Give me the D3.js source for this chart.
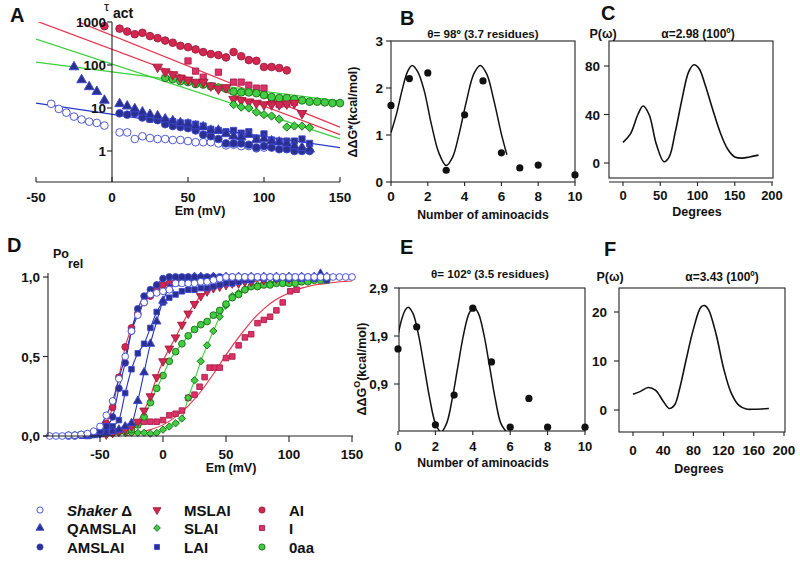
<!DOCTYPE html>
<html><head><meta charset="utf-8">
<script src="https://cdn.jsdelivr.net/npm/d3@7"></script>
<style>body{margin:0;background:#fff}svg{display:block}</style>
</head><body>
<svg id="c" width="800" height="567"></svg>
<script>
// ---------------- DATA ----------------
// Panel A: tau_act (log) vs Em (mV)
const tauShaker = [[-40,12.5],[-35,9.5],[-30,7.8],[-25,6.3],[-20,5.4],[-15,4.8],[-10,4.5],[-5,3.9],[5,2.7],[10,2.7],[15,1.9],[20,2.2],[25,2.0],[30,1.9],[35,1.9],[40,1.8],[45,1.8],[50,1.7],[55,1.6],[60,1.6],[65,1.6],[70,1.5],[75,1.35],[80,1.4],[85,1.3],[90,1.3],[95,1.15],[100,1.2]];
const tauQAMSLAI = [[-25,90],[-20,45],[-15,31],[-10,24],[-5,15],[5,12.5],[10,11],[15,9.5],[20,8],[25,7],[30,6.5],[35,5.5],[40,5],[45,4.5],[50,4.2],[55,3.8],[60,3.6],[65,3],[70,3],[75,2.5],[80,2.2],[85,2.1],[90,2.4],[95,1.8],[100,1.9],[105,1.7],[110,1.6],[115,1.5],[120,1.3],[125,1.2],[130,1.1]];
const tauAMSLAI = [[5,7.5],[10,7],[15,7.5],[20,6],[25,5.6],[30,5.2],[35,4.2],[40,3.8],[45,3.6],[50,3.4],[55,3.0],[60,2.4],[65,2.2],[70,1.9],[75,1.5],[80,1.5],[85,1.5],[90,1.4],[95,1.2],[100,1.3],[105,1.2],[110,1.1],[115,1.1],[120,1.0],[125,1.0],[130,1.0]];
const tauLAI = [[15,8],[20,6.5],[25,5.5],[30,5.5],[35,5],[40,4.8],[45,4.5],[50,4.5],[55,4.2],[60,3.8],[65,3.2],[70,3.0],[75,2.8],[80,3.0],[85,2.6],[90,2.8],[95,2.0],[100,2.5],[105,1.8],[110,1.7],[115,1.7],[120,1.7],[125,1.9],[130,1.5]];
const tauMSLAI = [[30,90],[35,70],[40,60],[45,50],[50,45],[55,40],[60,40],[65,33],[70,28],[75,30],[80,16],[85,15],[90,14],[95,13],[100,12],[105,12],[110,12],[115,12.5],[120,13],[125,7.5]];
const tauAI = [[-5,800],[5,700],[10,600],[15,520],[20,560],[25,470],[30,420],[35,370],[40,330],[45,280],[50,260],[55,230],[60,200],[65,180],[70,170],[75,150],[80,200],[85,160],[90,130],[95,125],[100,90],[105,90],[110,85],[115,75]];
const tauI = [[50,124],[55,72],[60,52],[70,68],[80,40],[85,40],[90,34],[95,29],[100,29],[105,14],[110,12],[115,12.5],[120,13.5]];
const tauSLAI = [[80,12],[85,10.5],[90,10],[95,8],[100,7],[105,6.5],[110,5.5],[115,3.6],[120,3.8],[125,3.8],[130,3.5]];
const tau0aa = [[35,50],[40,47],[45,42],[50,40],[55,36],[60,35],[65,32],[70,30],[75,28],[80,24],[85,23],[90,23],[95,22],[100,20],[105,18],[110,17],[115,17],[120,16],[125,15],[130,14],[135,14],[140,13.5],[145,13],[150,13]];
// fitted straight lines in panel A (end points, Em / tau)
const fitRed1 = [[-50,2500],[150,3.6]];
const fitRed2 = [[-50,1060],[150,2.4]];
const fitGreen1 = [[-50,400],[150,1.9]];
const fitGreen2 = [[-50,117],[150,14.5]];
const fitBlue = [[-50,13],[150,1.2]];
const tickA = [1,10,100,1000];

// Panel B: ddG* vs number of aminoacids
const nB = [0,1,2,3,4,5,6,7,8,10];
const ddgB = [1.63,2.2,2.32,0.25,1.43,2.15,0.62,0.3,0.36,0.15];
const curveB = [[0,1.05],[0.3,1.45],[0.6,1.95],[0.9,2.35],[1.15,2.48],[1.45,2.35],[1.8,1.95],[2.2,1.22],[2.6,0.62],[3.0,0.35],[3.35,0.53],[3.7,1.02],[4.1,1.72],[4.5,2.3],[4.85,2.48],[5.2,2.3],[5.6,1.72],[6.0,1.02],[6.3,0.58]];

// Panel C: P(omega) vs degrees
const curveC = [[0,17],[10,24],[20,40],[27,47],[35,40],[45,15],[55,1],[62,5],[70,25],[80,55],[88,75],[95,81],[102,78],[110,65],[120,45],[130,26],[140,12],[150,5],[160,4],[170,5],[182,6.5]];

// Panel D: relative Po vs Em
const poShaker = [[-90,0],[-85,0],[-80,0],[-75,0.005],[-70,0.005],[-65,0.01],[-60,0.015],[-55,0.03],[-50,0.06],[-45,0.13],[-40,0.22],[-35,0.36],[-30,0.5],[-25,0.66],[-20,0.76],[-15,0.84],[-10,0.89],[-5,0.9],[0,0.91],[5,0.92],[10,0.96],[15,0.96],[20,0.96],[25,0.96],[30,0.97],[35,0.97],[40,0.98],[45,0.99],[50,1],[55,1],[60,1],[65,1],[70,1],[75,1],[80,1],[85,1],[90,1],[95,1],[100,1],[105,1],[110,1],[115,1],[120,1],[125,1],[130,1],[135,1],[140,1],[145,1],[150,1]];
const poQAMSLAI = [[-60,0],[-55,0.005],[-50,0.01],[-45,0.02],[-40,0.03],[-35,0.04],[-30,0.06],[-25,0.08],[-20,0.22],[-15,0.4],[-10,0.58],[-5,0.72],[0,0.85],[5,0.93],[10,0.96],[15,0.98],[20,0.99],[25,1],[30,1],[40,1],[50,1],[60,1],[70,1],[80,1],[90,1],[100,1],[110,1],[120,1],[125,1.02],[130,1]];
const poAMSLAI = [[-75,0],[-70,0],[-65,0.005],[-60,0.01],[-55,0.02],[-50,0.03],[-45,0.06],[-40,0.12],[-35,0.3],[-30,0.46],[-25,0.66],[-20,0.8],[-15,0.88],[-10,0.92],[-5,0.95],[0,0.99],[5,1],[10,1],[15,1],[20,1],[25,1],[30,1],[35,1],[40,1],[45,1],[50,1],[55,1],[60,1],[65,1],[70,1],[75,1],[80,1],[85,1],[90,1],[95,1],[100,1],[105,1],[110,1],[115,1],[120,1],[125,1],[130,1]];
const poLAI = [[-60,0],[-55,0.01],[-50,0.02],[-45,0.03],[-40,0.06],[-35,0.1],[-30,0.27],[-25,0.42],[-20,0.52],[-15,0.58],[-10,0.68],[-5,0.78],[0,0.84],[5,0.87],[10,0.89],[15,0.91],[20,0.92],[25,0.92],[30,0.93],[35,0.93],[40,0.94],[45,0.95],[50,0.96],[55,0.96],[60,0.97],[65,0.98],[70,0.98],[80,0.99],[90,0.99],[100,0.99],[110,0.99],[120,0.99],[130,0.98]];
const poMSLAI = [[-45,0.01],[-40,0.02],[-35,0.03],[-30,0.04],[-25,0.06],[-20,0.09],[-15,0.16],[-10,0.25],[-5,0.37],[0,0.47],[5,0.55],[10,0.62],[15,0.7],[20,0.77],[25,0.83],[30,0.88],[35,0.91],[40,0.93],[45,0.94],[50,0.95],[55,0.96],[60,0.96],[65,0.97],[70,0.97],[80,0.98],[90,0.99],[100,0.99]];
const poAI = [[-65,0.005],[-60,0.01],[-55,0.015],[-50,0.03],[-45,0.08],[-40,0.18],[-35,0.37],[-30,0.56],[-25,0.68],[-20,0.77],[-15,0.84],[-10,0.88],[-5,0.92],[0,0.95],[5,0.96],[10,0.97],[15,0.98],[20,0.98],[25,0.99],[30,0.99]];
const poSLAI = [[-70,0.005],[-65,0.005],[-60,0.01],[-55,0.01],[-50,0.01],[-45,0.01],[-40,0.015],[-35,0.02],[-30,0.02],[-25,0.02],[-20,0.02],[-15,0.02],[-10,0.015],[-5,0.02],[0,0.04],[5,0.06],[10,0.08],[15,0.11],[20,0.24],[25,0.35],[30,0.47],[35,0.57],[40,0.66],[45,0.75],[50,0.82],[55,0.88],[60,0.9],[65,0.92],[70,0.94],[75,0.95],[80,0.96],[85,0.96],[90,0.97],[95,0.97],[100,0.98],[105,0.98],[110,0.98],[115,0.98],[120,0.99],[125,0.99],[130,0.99]];
const po0aa = [[-75,0.005],[-70,0.005],[-65,0.01],[-60,0.01],[-55,0.01],[-50,0.015],[-45,0.02],[-40,0.02],[-35,0.03],[-30,0.03],[-25,0.04],[-20,0.07],[-15,0.12],[-10,0.21],[-5,0.3],[0,0.38],[5,0.47],[10,0.53],[15,0.58],[20,0.63],[25,0.67],[30,0.7],[35,0.72],[40,0.76],[45,0.79],[50,0.83],[55,0.87],[60,0.89],[65,0.92],[70,0.94],[75,0.94],[80,0.95],[85,0.95],[90,0.96],[95,0.96],[100,0.96],[105,0.96],[110,0.97],[115,0.97],[120,0.98],[125,0.98],[130,0.98]];
const poI = [[-25,0.03],[-20,0.07],[-15,0.09],[-10,0.09],[-5,0.09],[0,0.1],[5,0.13],[10,0.14],[15,0.16],[20,0.24],[25,0.26],[29,0.31],[33,0.37],[37,0.43],[41,0.43],[45,0.43],[50,0.49],[55,0.5],[60,0.57],[65,0.62],[70,0.64],[75,0.71],[80,0.73],[85,0.75],[90,0.79],[95,0.84],[101,0.91],[106,0.92]];
const fitI = [[-30,0],[-20,0.02],[-10,0.04],[0,0.07],[10,0.12],[20,0.19],[30,0.28],[40,0.39],[50,0.51],[60,0.62],[70,0.72],[80,0.8],[90,0.86],[100,0.9],[110,0.93],[120,0.95],[130,0.96],[140,0.97],[150,0.975]];
const tickD = [-50,0,50,100,150];

// Panel E
const nE = [0,1,2,3,4,5,6,7,8,10];
const ddgE = [1.63,2.09,0.05,0.67,2.48,1.36,0,0.6,0,0];
const curveE = [[0,1.92],[0.2,2.25],[0.4,2.45],[0.55,2.5],[0.8,2.37],[1.1,1.92],[1.4,1.26],[1.7,0.59],[2.0,0.08],[2.3,-0.1],[2.6,0.08],[2.9,0.59],[3.2,1.26],[3.5,1.92],[3.8,2.37],[4.05,2.5],[4.3,2.37],[4.6,1.92],[4.9,1.26],[5.2,0.59],[5.5,0.08],[5.8,-0.1]];
const tickE = [0.9,1.9,2.9];

// Panel F
const curveF = [[0,3.2],[10,3.8],[20,4.6],[30,4.0],[40,1.8],[48,0.3],[55,1.0],[62,4.5],[70,10],[80,16.5],[90,21],[95,21.3],[100,20.5],[110,15.5],[120,8.5],[130,3.5],[140,1.0],[150,0.2],[160,0.15],[170,0.2],[180,0.3]];

// ---------------- STYLE ----------------
const FONT = "'Liberation Sans', Arial, Helvetica, sans-serif";
const BLUE_F = "#2a2f90", BLUE_S = "#3c48d0", BLUE_L = "#2535c0";
const RED_F = "#d42650", RED_S = "#9c1d3c", RED_L = "#e63048";
const GRN_F = "#3fcf3f", GRN_S = "#1c6a1c", GRN_L = "#39d039";

const svg = d3.select("#c").style("font-family", FONT).style("font-weight", "bold");

function txt(x, y, s, size, anchor, extra) {
  const t = svg.append("text").attr("x", x).attr("y", y).attr("font-size", size)
    .attr("text-anchor", anchor || "start").attr("fill", "#111").text(s);
  if (extra) extra(t);
  return t;
}
function line(x1, y1, x2, y2, w) {
  svg.append("line").attr("x1", x1).attr("y1", y1).attr("x2", x2).attr("y2", y2)
    .attr("stroke", "#222").attr("stroke-width", w || 1.1);
}
const sym = {
  circle: d3.symbol().type(d3.symbolCircle),
  tri: d3.symbol().type(d3.symbolTriangle),
  square: d3.symbol().type(d3.symbolSquare),
};
const styles = {
  shaker: {t: "circle", f: "#fff", s: BLUE_S, rot: 0, sz: 1},
  qam: {t: "tri", f: BLUE_F, s: BLUE_S, rot: 0, sz: 0.9},
  am: {t: "circle", f: BLUE_F, s: BLUE_S, rot: 0, sz: 1},
  lai: {t: "square", f: BLUE_F, s: BLUE_S, rot: 0, sz: 0.85},
  mslai: {t: "tri", f: RED_F, s: RED_S, rot: 180, sz: 0.9},
  slai: {t: "square", f: GRN_F, s: GRN_S, rot: 45, sz: 0.75},
  ai: {t: "circle", f: RED_F, s: RED_S, rot: 0, sz: 1},
  i: {t: "square", f: "#e0306a", s: "#a82048", rot: 0, sz: 0.85},
  zero: {t: "circle", f: GRN_F, s: GRN_S, rot: 0, sz: 1},
};
function markers(g, data, xs, ys, st, base) {
  const gen = sym[st.t].size(base * st.sz);
  g.selectAll(null).data(data).enter().append("path")
    .attr("d", gen)
    .attr("transform", d => `translate(${xs(d[0])},${ys(d[1])}) rotate(${st.rot})`)
    .attr("fill", st.f).attr("stroke", st.s).attr("stroke-width", 0.9);
}

// ---------------- PANEL A ----------------
const xA = d3.scaleLinear().domain([-50, 150]).range([36, 340]);
const yA = d3.scaleLog().domain([0.19, 1000]).range([182, 22]);
svg.append("clipPath").attr("id", "clipA").append("rect").attr("x", 36).attr("y", 22).attr("width", 304).attr("height", 160);
const gA = svg.append("g");
const lnA = d3.line().x(d => xA(d[0])).y(d => yA(d[1]));
const gAl = gA.append("g").attr("clip-path", "url(#clipA)");
[[fitRed1, RED_L], [fitRed2, RED_L], [fitGreen1, GRN_L], [fitGreen2, GRN_L], [fitBlue, BLUE_L]].forEach(([d, c]) => {
  gAl.append("path").attr("d", lnA(d)).attr("fill", "none").attr("stroke", c).attr("stroke-width", 1.2);
});
const mA = 46;
markers(gA, tauShaker, xA, yA, styles.shaker, mA);
markers(gA, tauAI, xA, yA, styles.ai, mA);
markers(gA, tauI, xA, yA, styles.i, mA);
markers(gA, tau0aa, xA, yA, styles.zero, mA);
markers(gA, tauMSLAI, xA, yA, styles.mslai, mA);
markers(gA, tauSLAI, xA, yA, styles.slai, mA);
markers(gA, tauLAI, xA, yA, styles.lai, mA);
markers(gA, tauAMSLAI, xA, yA, styles.am, mA);
markers(gA, tauQAMSLAI, xA, yA, styles.qam, mA);
// axes A
line(xA(0), 22, xA(0), 182);
line(36, 182, 340, 182);
tickA.forEach(v => { line(xA(0) - 5, yA(v), xA(0), yA(v)); txt(106, yA(v) + 5, String(v), 13.5, "end"); });
[-50, 0, 50, 100, 150].forEach(v => { line(xA(v), 182, xA(v), 177); txt(xA(v), 202, String(v), 13.5, "middle"); });
txt(200, 215, "Em (mV)", 12.5, "middle");
txt(104, 11, "τ", 13, "start", t => t.attr("font-weight", "normal"));
txt(113, 18, "act", 14, "start");
txt(10, 22, "A", 20, "start");

// ---------------- PANEL B ----------------
const xB = d3.scaleLinear().domain([0, 10]).range([391, 575]);
const yB = d3.scaleLinear().domain([0, 3]).range([182, 41]);
svg.append("rect").attr("x", 391).attr("y", 41).attr("width", 184).attr("height", 141).attr("fill", "none").attr("stroke", "#222").attr("stroke-width", 1.1);
[0, 1, 2, 3].forEach(v => { line(386, yB(v), 391, yB(v)); txt(383, yB(v) + 5, String(v), 13.5, "end"); });
[0, 2, 4, 6, 8, 10].forEach(v => { line(xB(v), 182, xB(v), 186); txt(xB(v), 201, String(v), 13.5, "middle"); });
svg.append("path").attr("d", d3.line().x(d => xB(d[0])).y(d => yB(d[1])).curve(d3.curveCatmullRom)(curveB))
  .attr("fill", "none").attr("stroke", "#111").attr("stroke-width", 1.5);
svg.append("g").selectAll(null).data(nB).enter().append("circle")
  .attr("cx", d => xB(d)).attr("cy", (d, i) => yB(ddgB[i])).attr("r", 3.6).attr("fill", "#111");
txt(483, 38, "θ= 98º (3.7 residues)", 11.6, "middle");
txt(483, 219, "Number of aminoacids", 12.2, "middle");
txt(0, 0, "ΔΔG*(kcal/mol)", 12.5, "middle", t => t.attr("transform", "translate(357,112) rotate(-90)"));
txt(400, 25, "B", 20, "start");

// ---------------- PANEL C ----------------
const xC = d3.scaleLinear().domain([0, 200]).range([623, 772]);
const yC = d3.scaleLinear().domain([0, 80]).range([163, 66]);
svg.append("rect").attr("x", 609).attr("y", 41).attr("width", 164).attr("height", 137).attr("fill", "none").attr("stroke", "#222").attr("stroke-width", 1.1);
line(609, 182, 773, 182);
[0, 50, 100, 150, 200].forEach(v => { line(xC(v), 182, xC(v), 186); txt(xC(v), 200, String(v), 13, "middle"); });
[0, 40, 80].forEach(v => { line(604, yC(v), 609, yC(v)); txt(600, yC(v) + 5, String(v), 13.5, "end"); });
svg.append("path").attr("d", d3.line().x(d => xC(d[0])).y(d => yC(d[1])).curve(d3.curveCatmullRom)(curveC))
  .attr("fill", "none").attr("stroke", "#111").attr("stroke-width", 1.6);
txt(603, 38, "P(ω)", 12.5, "middle");
txt(698, 38, "α=2.98 (100º)", 12, "middle");
txt(697, 216, "Degrees", 12.5, "middle");
txt(601, 20, "C", 20, "start");

// ---------------- PANEL D ----------------
const xD = d3.scaleLinear().domain([-50, 150]).range([100, 352]);
const yD = d3.scaleLinear().domain([0, 1]).range([436, 277]);
const gD = svg.append("g");
const lnD = d3.line().x(d => xD(d[0])).y(d => yD(d[1])).curve(d3.curveMonotoneX);
[[poSLAI, GRN_L], [po0aa, GRN_L], [poMSLAI, RED_L], [poAI, RED_L], [poLAI, BLUE_L], [poQAMSLAI, BLUE_L], [poAMSLAI, BLUE_L], [poShaker, BLUE_L]].forEach(([d, c]) => {
  gD.append("path").attr("d", lnD(d)).attr("fill", "none").attr("stroke", c).attr("stroke-width", 1.1);
});
gD.append("path").attr("d", lnD(fitI)).attr("fill", "none").attr("stroke", RED_L).attr("stroke-width", 1.1);
const mD = 36;
markers(gD, poI, xD, yD, styles.i, mD);
markers(gD, poSLAI, xD, yD, styles.slai, mD);
markers(gD, po0aa, xD, yD, styles.zero, mD);
markers(gD, poMSLAI, xD, yD, styles.mslai, mD);
markers(gD, poAI, xD, yD, styles.ai, mD);
markers(gD, poLAI, xD, yD, styles.lai, mD);
markers(gD, poQAMSLAI, xD, yD, styles.qam, mD);
markers(gD, poAMSLAI, xD, yD, styles.am, mD);
markers(gD, poShaker, xD, yD, styles.shaker, mD);
line(48, 273, 48, 436);
line(43, 436, 353, 436);
[0, 0.5, 1].forEach(v => { line(43, yD(v), 48, yD(v)); txt(40, yD(v) + 5, v.toFixed(1).replace(".", ","), 13.5, "end"); });
tickD.forEach(v => { line(xD(v), 436, xD(v), 442); txt(xD(v), 459, String(v), 13.5, "middle"); });
txt(231, 472, "Em (mV)", 12.5, "middle");
txt(53, 258, "Po", 12.5, "start");
txt(68, 268, "rel", 12.5, "start");
txt(7, 252, "D", 20, "start");

// ---------------- PANEL E ----------------
const xE = d3.scaleLinear().domain([0, 10]).range([398, 585]);
const yE = d3.scaleLinear().domain([0.9, 2.9]).range([384, 288]);
svg.append("clipPath").attr("id", "clipE").append("rect").attr("x", 399).attr("y", 288).attr("width", 186).attr("height", 143);
svg.append("rect").attr("x", 399).attr("y", 288).attr("width", 186).attr("height", 143).attr("fill", "none").attr("stroke", "#222").attr("stroke-width", 1.1);
tickE.forEach(v => { line(394, yE(v), 399, yE(v)); txt(388, yE(v) + 5, v.toFixed(1).replace(".", ","), 13.5, "end"); });
[0, 2, 4, 6, 8, 10].forEach(v => { line(xE(v), 431, xE(v), 435); txt(xE(v), 451, String(v), 13, "middle"); });
svg.append("path").attr("clip-path", "url(#clipE)").attr("d", d3.line().x(d => xE(d[0])).y(d => yE(d[1])).curve(d3.curveCatmullRom)(curveE))
  .attr("fill", "none").attr("stroke", "#111").attr("stroke-width", 1.5);
svg.append("g").selectAll(null).data(nE).enter().append("circle")
  .attr("cx", d => xE(d)).attr("cy", (d, i) => yE(ddgE[i])).attr("r", 3.6).attr("fill", "#111");
txt(490, 278, "θ= 102º (3.5 residues)", 11.6, "middle");
txt(483, 467, "Number of aminoacids", 12.2, "middle");
txt(0, 0, "", 12.5, "middle", t => {
  t.attr("transform", "translate(366,369) rotate(-90)");
  t.append("tspan").text("ΔΔG");
  t.append("tspan").attr("dy", -6).attr("font-size", 9).text("O");
  t.append("tspan").attr("dy", 6).text("(kcal/mol)");
});
txt(400, 254, "E", 20, "start");

// ---------------- PANEL F ----------------
const xF = d3.scaleLinear().domain([0, 200]).range([633, 784]);
const yF = d3.scaleLinear().domain([0, 20]).range([410, 312]);
svg.append("rect").attr("x", 619).attr("y", 288).attr("width", 166).attr("height", 144).attr("fill", "none").attr("stroke", "#222").attr("stroke-width", 1.1);
[0, 40, 80, 120, 160, 200].forEach(v => { line(xF(v), 432, xF(v), 436); txt(xF(v), 455, String(v), 13.5, "middle"); });
[0, 10, 20].forEach(v => { line(614, yF(v), 619, yF(v)); txt(607, yF(v) + 5, String(v), 13.5, "end"); });
svg.append("path").attr("d", d3.line().x(d => xF(d[0])).y(d => yF(d[1])).curve(d3.curveCatmullRom)(curveF))
  .attr("fill", "none").attr("stroke", "#111").attr("stroke-width", 1.6);
txt(610, 281, "P(ω)", 12.5, "middle");
txt(722, 281, "α=3.43 (100º)", 12, "middle");
txt(699, 473, "Degrees", 12.5, "middle");
txt(604, 256, "F", 20, "start");

// ---------------- LEGEND ----------------
const legend = [
  ["shaker", "Shaker", 40, 510], ["mslai", "MSLAI", 157, 510], ["ai", "AI", 262, 510],
  ["qam", "QAMSLAI", 40, 528], ["slai", "SLAI", 157, 528], ["i", "I", 262, 528],
  ["am", "AMSLAI", 40, 547], ["lai", "LAI", 157, 547], ["zero", "0aa", 262, 547],
];
const gL = svg.append("g");
legend.forEach(([k, label, x, y]) => {
  const st = styles[k];
  gL.append("path").attr("d", sym[st.t].size(30 * st.sz)())
    .attr("transform", `translate(${x},${y}) rotate(${st.rot})`)
    .attr("fill", st.f).attr("stroke", st.s).attr("stroke-width", 0.9);
  const t = txt(x + 27, y + 6, "", 15, "start");
  if (k === "shaker") {
    t.append("tspan").attr("font-style", "italic").text("Shaker");
    t.append("tspan").text(" Δ");
  } else t.text(label);
});
</script>
</body></html>
